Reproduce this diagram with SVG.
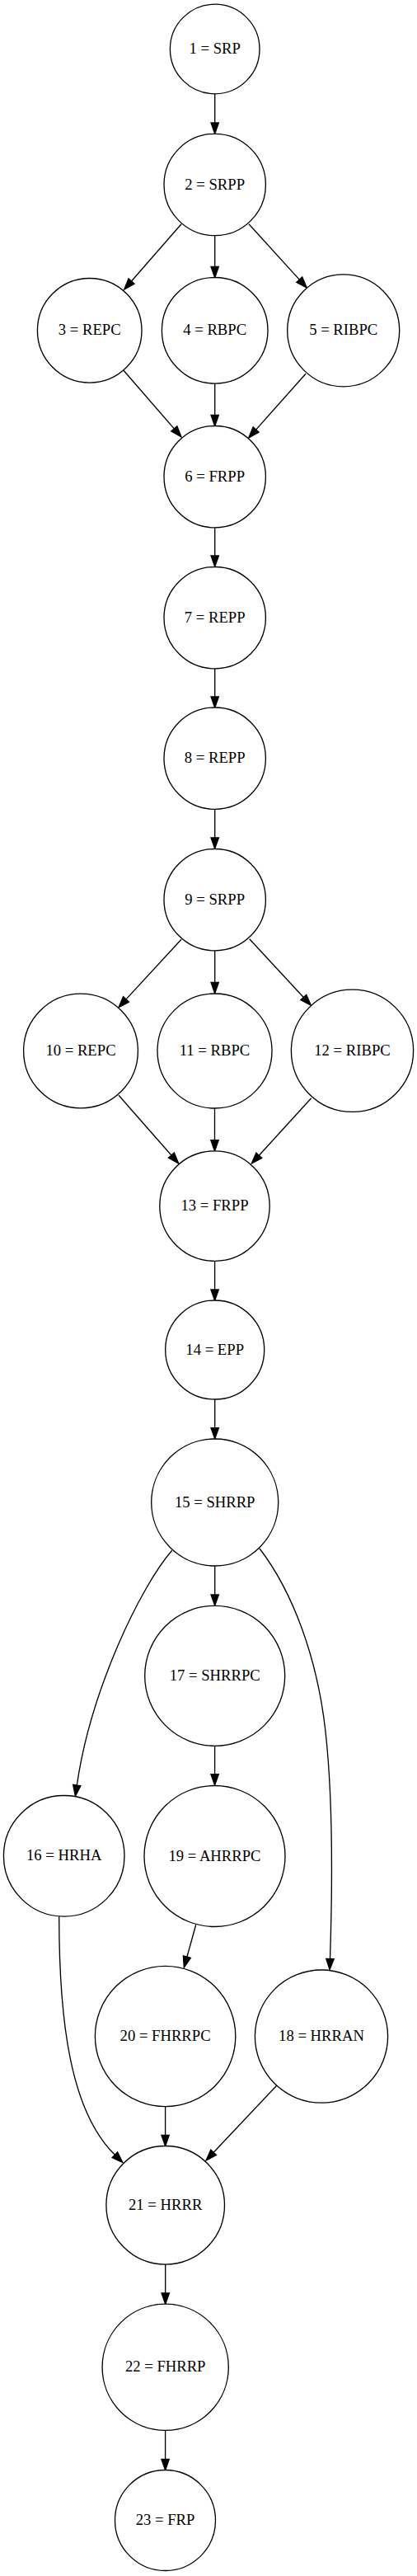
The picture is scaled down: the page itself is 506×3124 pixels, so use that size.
<svg xmlns="http://www.w3.org/2000/svg" width="506" height="3124" viewBox="0 0 506 3124">
<style>
.n{fill:#fff;stroke:#000;stroke-width:1.33}
.t{font-family:"Liberation Serif","Times New Roman",serif;font-size:18.67px;text-anchor:middle;fill:#000}
.e{fill:none;stroke:#000;stroke-width:1.33;marker-end:url(#ah)}
</style>
<defs>
<marker id="ah" markerUnits="userSpaceOnUse" markerWidth="16" markerHeight="12" refX="0" refY="6" orient="auto" overflow="visible">
<path d="M0,1.33 L13.33,6 L0,10.67 Z" fill="#000" stroke="#000" stroke-width="1.33"/>
</marker>
</defs>
<rect width="506" height="3124" fill="#fff"/>
<g id="connectors">
<path class="e" d="M260.7,114 L260.7,149"/>
<path class="e" d="M220,271.7 L159.5,341"/>
<path class="e" d="M260.7,285.7 L260.7,323.4"/>
<path class="e" d="M302,271.7 L363.3,339.1"/>
<path class="e" d="M150,449.3 L211.3,519.9"/>
<path class="e" d="M260.7,465 L260.7,503.4"/>
<path class="e" d="M371,453.3 L310.6,521.1"/>
<path class="e" d="M260.7,639.9 L260.7,674"/>
<path class="e" d="M260.7,810.9 L260.7,845"/>
<path class="e" d="M260.7,981.4 L260.7,1016"/>
<path class="e" d="M220,1139.3 L153,1211.9"/>
<path class="e" d="M260.7,1152.9 L260.7,1191.4"/>
<path class="e" d="M302.7,1138.7 L368.3,1209.5"/>
<path class="e" d="M144,1328.3 L207.9,1401"/>
<path class="e" d="M260.5,1344 L260.5,1382.7"/>
<path class="e" d="M377.7,1331.7 L314.3,1401.2"/>
<path class="e" d="M260.6,1529.3 L260.6,1564"/>
<path class="e" d="M260.7,1697 L260.7,1731.7"/>
<path class="e" d="M208.7,1880.3 C170,1925 110,2050 93.3,2165"/>
<path class="e" d="M260.7,1899 L260.7,1934"/>
<path class="e" d="M315,1878 C355,1930 385,2010 395,2100 C405,2190 403,2300 400.5,2375.5"/>
<path class="e" d="M260.6,2117.3 L260.6,2151.7"/>
<path class="e" d="M71.7,2324.3 C71.7,2450 85,2560 139.4,2613.3"/>
<path class="e" d="M237.7,2334.3 L226.9,2373.2"/>
<path class="e" d="M200.6,2554.7 L200.6,2589.4"/>
<path class="e" d="M335.7,2529.2 L259.2,2610.3"/>
<path class="e" d="M200.7,2746.1 L200.7,2781"/>
<path class="e" d="M200.6,2947.4 L200.6,2982.4"/>
</g>
<g id="n1"><circle class="n" cx="260.7" cy="59.5" r="54.3"/><text class="t" x="260.7" y="65">1 = SRP</text></g>
<g id="n2"><circle class="n" cx="260.7" cy="224" r="61.7"/><text class="t" x="260.7" y="229.5">2 = SRPP</text></g>
<g id="n3"><circle class="n" cx="108.7" cy="400.8" r="63.3"/><text class="t" x="108.7" y="406.3">3 = REPC</text></g>
<g id="n4"><circle class="n" cx="260.7" cy="400.8" r="64.3"/><text class="t" x="260.7" y="406.3">4 = RBPC</text></g>
<g id="n5"><circle class="n" cx="416.7" cy="400.8" r="68"/><text class="t" x="416.7" y="406.3">5 = RIBPC</text></g>
<g id="n6"><circle class="n" cx="260.7" cy="578.2" r="61.7"/><text class="t" x="260.7" y="583.7">6 = FRPP</text></g>
<g id="n7"><circle class="n" cx="260.7" cy="749.2" r="61.7"/><text class="t" x="260.7" y="754.7">7 = REPP</text></g>
<g id="n8"><circle class="n" cx="260.7" cy="919.7" r="61.7"/><text class="t" x="260.7" y="925.2">8 = REPP</text></g>
<g id="n9"><circle class="n" cx="260.7" cy="1091.2" r="61.7"/><text class="t" x="260.7" y="1096.7">9 = SRPP</text></g>
<g id="n10"><circle class="n" cx="98" cy="1274.5" r="69.4"/><text class="t" x="98" y="1280">10 = REPC</text></g>
<g id="n11"><circle class="n" cx="260.5" cy="1274.5" r="69.5"/><text class="t" x="260.5" y="1280">11 = RBPC</text></g>
<g id="n12"><circle class="n" cx="427.5" cy="1274.3" r="74.1"/><text class="t" x="427.5" y="1279.8">12 = RIBPC</text></g>
<g id="n13"><circle class="n" cx="260.5" cy="1462.6" r="66.7"/><text class="t" x="260.5" y="1468.1">13 = FRPP</text></g>
<g id="n14"><circle class="n" cx="260.7" cy="1637" r="60"/><text class="t" x="260.7" y="1642.5">14 = EPP</text></g>
<g id="n15"><circle class="n" cx="260.7" cy="1822" r="77"/><text class="t" x="260.7" y="1827.5">15 = SHRRP</text></g>
<g id="n16"><circle class="n" cx="77.7" cy="2250.8" r="73.3"/><text class="t" x="77.7" y="2256.3">16 = HRHA</text></g>
<g id="n17"><circle class="n" cx="260.7" cy="2032.3" r="85"/><text class="t" x="260.7" y="2037.8">17 = SHRRPC</text></g>
<g id="n18"><circle class="n" cx="390" cy="2469.6" r="80.6"/><text class="t" x="390" y="2475.1">18 = HRRAN</text></g>
<g id="n19"><circle class="n" cx="260.5" cy="2251" r="85.5"/><text class="t" x="260.5" y="2256.5">19 = AHRRPC</text></g>
<g id="n20"><circle class="n" cx="200.6" cy="2469.5" r="85.2"/><text class="t" x="200.6" y="2475">20 = FHRRPC</text></g>
<g id="n21"><circle class="n" cx="200.7" cy="2674.3" r="71.8"/><text class="t" x="200.7" y="2679.8">21 = HRRR</text></g>
<g id="n22"><circle class="n" cx="200.7" cy="2870.8" r="76.6"/><text class="t" x="200.7" y="2876.3">22 = FHRRP</text></g>
<g id="n23"><circle class="n" cx="200.5" cy="3056.5" r="61"/><text class="t" x="200.5" y="3062">23 = FRP</text></g>
</svg>
